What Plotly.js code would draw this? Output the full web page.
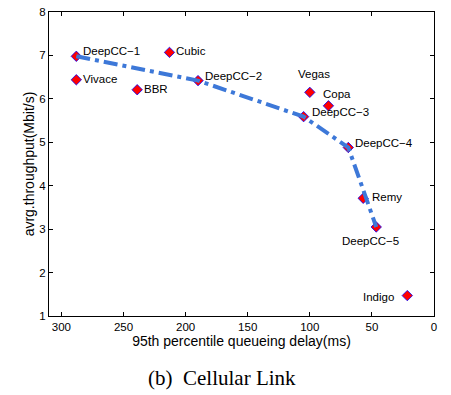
<!DOCTYPE html>
<html>
<head>
<meta charset="utf-8">
<script src="https://cdn.plot.ly/plotly-3.0.1.min.js"></script>
<style>
html,body{margin:0;padding:0;background:#fff;}
#chart{width:451px;height:395px;}
</style>
</head>
<body>
<div id="chart"></div>
<script>
// Data
const names = ["DeepCC−1","Vivace","BBR","Cubic","DeepCC−2","Vegas","Copa","DeepCC−3","DeepCC−4","Remy","DeepCC−5","Indigo"];
const delay = [288, 288, 239, 213, 190, 100, 85, 105, 69, 57, 46.5, 21.5];
const throughput = [6.98, 6.44, 6.21, 7.07, 6.42, 6.15, 5.84, 5.59, 4.88, 3.71, 3.05, 1.47];
const frontierNames = ["DeepCC−1","DeepCC−2","DeepCC−3","DeepCC−4","DeepCC−5"];
const xTicks = [300, 250, 200, 150, 100, 50, 0];
const yTicks = [1, 2, 3, 4, 5, 6, 7, 8];

// label placement offsets (pixels)
const labelPos = {
  "DeepCC−1": {anchor:"left", dx:5, dy:5},
  "Vivace":   {anchor:"left", dx:5, dy:1},
  "BBR":      {anchor:"left", dx:5, dy:1},
  "Cubic":    {anchor:"left", dx:5, dy:1},
  "DeepCC−2": {anchor:"left", dx:5, dy:5},
  "Vegas":    {anchor:"center", dx:4, dy:18},
  "Copa":     {anchor:"left", dx:-7, dy:12},
  "DeepCC−3": {anchor:"left", dx:6, dy:5},
  "DeepCC−4": {anchor:"left", dx:5, dy:5},
  "Remy":     {anchor:"left", dx:7, dy:1},
  "DeepCC−5": {anchor:"center", dx:-6, dy:-14},
  "Indigo":   {anchor:"right", dx:-11, dy:-1}
};

const FONT = "Liberation Sans, Arial, Helvetica, sans-serif";

const fx = frontierNames.map(n => delay[names.indexOf(n)]);
const fy = frontierNames.map(n => throughput[names.indexOf(n)]);

const traces = [
  {
    x: delay, y: throughput, type: "scatter", mode: "markers",
    marker: {symbol: "diamond", size: 8, color: "#ff0000", line: {color: "#0000ff", width: 0.8}},
    hoverinfo: "skip", showlegend: false
  },
  {
    x: fx, y: fy, type: "scatter", mode: "lines",
    line: {color: "#3d78d8", width: 4, dash: "14px,5px,4px,5px"},
    hoverinfo: "skip", showlegend: false
  }
];

const annotations = names.map((n, i) => {
  const p = labelPos[n];
  return {
    x: delay[i], y: throughput[i], xref: "x", yref: "y",
    text: n, showarrow: false, xanchor: p.anchor, yanchor: "middle",
    xshift: p.dx, yshift: p.dy,
    font: {family: FONT, size: 11.5, color: "#000"}
  };
});
annotations.push({
  xref: "paper", yref: "paper", x: 0.4506, y: -0.2, yanchor: "middle", xanchor: "center",
  showarrow: false, text: "(b)  Cellular Link", yshift: -1,
  font: {family: "Liberation Serif, Times New Roman, serif", size: 21, color: "#000"}
});

const axisCommon = {
  showline: true, linecolor: "#000", linewidth: 1, mirror: "ticks",
  ticks: "inside", ticklen: 4, tickcolor: "#000", tickwidth: 1,
  showgrid: false, zeroline: false,
  tickfont: {family: FONT, size: 11.5, color: "#000"}
};

const layout = {
  width: 451, height: 395,
  margin: {l: 49, r: 17, t: 12, b: 79},
  paper_bgcolor: "#fff", plot_bgcolor: "#fff",
  xaxis: Object.assign({}, axisCommon, {
    range: [310, 0], tickvals: xTicks, ticktext: xTicks.map(String),
    title: {text: "95th percentile queueing delay(ms)", font: {family: FONT, size: 14, color: "#000"}, standoff: 3}
  }),
  yaxis: Object.assign({}, axisCommon, {
    range: [1, 8], tickvals: yTicks, ticktext: yTicks.map(String),
    title: {text: "avrg.throughput(Mbit/s)", font: {family: FONT, size: 14, color: "#000"}, standoff: 1}
  }),
  annotations: annotations
};

Plotly.newPlot("chart", traces, layout, {staticPlot: true, displayModeBar: false});
</script>
</body>
</html>
